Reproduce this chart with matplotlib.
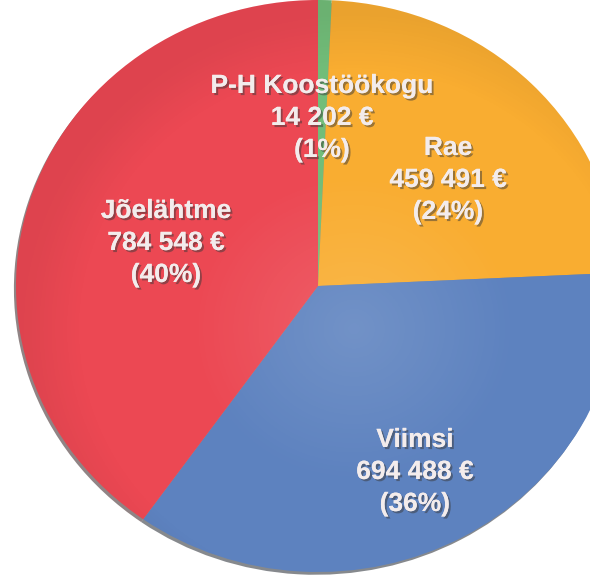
import matplotlib
matplotlib.use("Agg")
import matplotlib.pyplot as plt
import matplotlib.patheffects as pe
from matplotlib.patches import Ellipse
import numpy as np

# data (clockwise from the top)
names = ["P-H Koostöökogu", "Rae", "Viimsi", "Jõelähtme"]
amounts = [14202, 459491, 694488, 784548]
shares = ["(1%)", "(24%)", "(36%)", "(40%)"]
amount_txt = ["14 202 €", "459 491 €", "694 488 €", "784 548 €"]
colors = ["#72bd79", "#f9ad31", "#5d82bf", "#ec4853"]

# label anchor (px from top-left, centre of the first line)
label_px = [(322, 86), (448, 148), (415, 440), (166, 211)]

W, H = 590, 585
cx, cy = 318, 286      # wedge vertex in px
rx, ry = 302, 286      # pie half-width / half-height in px

fig = plt.figure(figsize=(W / 100, H / 100), dpi=100)
fig.patch.set_facecolor("white")
ax = fig.add_axes([0, 0, 1, 1])

wedges, _ = ax.pie(amounts, colors=colors, startangle=90, counterclock=False,
                   radius=1, center=(0, 0),
                   shadow={"ox": -0.005, "oy": -0.007, "shade": 0.85},
                   wedgeprops={"linewidth": 0})

ax.set_aspect("auto")
ax.set_xlim(-cx / rx, (W - cx) / rx)
ax.set_ylim(-(H - cy) / ry, cy / ry)
ax.axis("off")

# soft light just below the centre, slightly darker rim
gx, gy = np.meshgrid(np.linspace(-1, 1, 400), np.linspace(-1, 1, 400))
rr = np.sqrt((gx - 0.12) ** 2 + (gy + 0.15) ** 2)
shade = np.zeros((400, 400, 4))
light = np.clip(1 - rr / 0.55, 0, 1) * 0.13
dark = np.clip((rr - 0.9) / 0.2, 0, 1) * 0.06
shade[..., :3] = np.where(light[..., None] > 0, 1.0, 0.0)
shade[..., 3] = light + dark
clip = Ellipse((0, 0), 2, 2, transform=ax.transData, facecolor="none", edgecolor="none")
ax.add_patch(clip)
img = ax.imshow(shade, extent=(-1, 1, -1, 1), origin="lower", zorder=3, aspect="auto")
img.set_clip_path(clip)

effects = [pe.withSimplePatchShadow(offset=(1.5, -1.5), shadow_rgbFace="#3a3a3a", alpha=0.5),
           pe.Normal()]

line_gap = 32
for i, (x, y) in enumerate(label_px):
    for j, txt in enumerate([names[i], amount_txt[i], shares[i]]):
        fig.text(x / W, 1 - (y + j * line_gap) / H, txt, ha="center", va="center",
                 fontsize=19, fontweight="bold", family="Liberation Sans", color="#f3ecec",
                 path_effects=effects, zorder=5)

fig.savefig("out.png", dpi=100, facecolor="white")
